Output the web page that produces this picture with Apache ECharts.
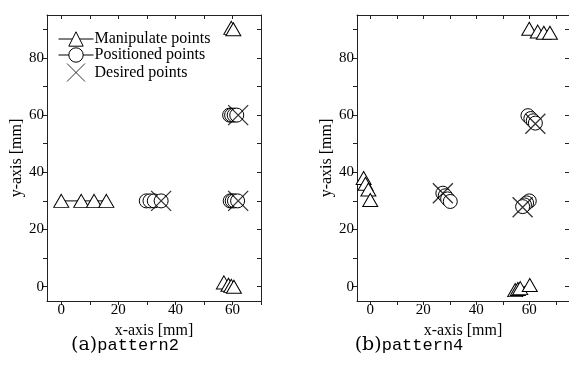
<!DOCTYPE html>
<html>
<head>
<meta charset="utf-8">
<script src="https://cdn.jsdelivr.net/npm/echarts@6/dist/echarts.min.js"></script>
<style>
  html, body { margin: 0; padding: 0; background: #fff; }
  #chart { width: 569px; height: 374px; }
</style>
</head>
<body>
<div id="chart"></div>
<script>
// ticks and labels
var xTicks = [0, 10, 20, 30, 40, 50, 60, 70];
var xLabels = [0, 20, 40, 60];
var yTicks = [0, 10, 20, 30, 40, 50, 60, 70, 80, 90];
var yLabels = [0, 20, 40, 60, 80];
var seriesNames = ['Manipulate points', 'Positioned points', 'Desired points'];
var captions = [['(a)', 'pattern2'], ['(b)', 'pattern4']];

// pattern2 - each inner list is one group of points joined by a line
var p2Manipulate = [
  [[0, 30], [7, 30], [11.5, 30], [15.8, 30]],
  [[59.6, 90.5], [60.3, 90]],
  [[57, 1.5], [58.6, 0.7], [59.6, 0.3], [60.5, 0]]
];
var p2Positioned = [
  [[29.8, 30], [31.1, 30], [32.6, 30], [35, 30]],
  [[59, 60], [59.7, 60], [60.6, 60], [61.5, 60]],
  [[59.2, 30], [59.9, 30], [60.7, 30], [61.8, 30]]
];
var p2Desired = [[35, 30], [62, 60], [62, 30]];

// pattern4
var p4Manipulate = [
  [[-2.5, 38], [-1.8, 36], [-0.7, 34], [0, 30.3]],
  [[60, 90.2], [63.2, 89.2], [65.5, 88.8], [67.8, 88.8]],
  [[54.7, -1.2], [55.7, -0.8], [56.6, -0.5], [60.2, 0.6]]
];
var p4Positioned = [
  [[27.4, 32.7], [28.3, 31.8], [29.2, 30.7], [30.2, 29.8]],
  [[59.5, 59.8], [60.6, 58.8], [61.5, 58], [62.3, 57.2]],
  [[60, 30], [59, 29.3], [58.2, 28.6], [57.5, 28]]
];
var p4Desired = [[27.4, 32.7], [57.5, 27.8], [62.3, 57]];

var serif = '"Liberation Serif", "Times New Roman", serif';
var frameColor = '#222';

var chartDom = document.getElementById('chart');
var myChart = echarts.init(chartDom);

function xAxes(gi, xmax) {
  var base = {
    type: 'value', gridIndex: gi, min: -5, max: xmax,
    splitLine: { show: false },
    axisLine: { show: true, onZero: false, lineStyle: { color: frameColor, width: 1 } }
  };
  return [
    Object.assign({}, base, {
      position: 'bottom',
      name: 'x-axis [mm]', nameLocation: 'middle', nameGap: 11,
      nameTextStyle: { fontFamily: serif, fontSize: 16, color: '#000' },
      axisTick: { show: true, inside: false, length: 4, customValues: xTicks, lineStyle: { color: frameColor } },
      axisLabel: { show: true, margin: 2, customValues: xLabels, fontFamily: serif, fontSize: 15, color: '#000' }
    }),
    Object.assign({}, base, {
      position: 'top',
      axisTick: { show: true, inside: true, length: 4, customValues: xTicks, lineStyle: { color: frameColor } },
      axisLabel: { show: false }
    })
  ];
}

function yAxes(gi) {
  var base = {
    type: 'value', gridIndex: gi, min: -5, max: 95,
    splitLine: { show: false },
    axisLine: { show: true, onZero: false, lineStyle: { color: frameColor, width: 1 } }
  };
  return [
    Object.assign({}, base, {
      position: 'left',
      name: 'y-axis [mm]', nameLocation: 'middle', nameGap: 22, nameRotate: 90,
      nameTextStyle: { fontFamily: serif, fontSize: 16, color: '#000' },
      axisTick: { show: true, inside: false, length: 4, customValues: yTicks, lineStyle: { color: frameColor } },
      axisLabel: { show: true, margin: 3, customValues: yLabels, fontFamily: serif, fontSize: 15, color: '#000' }
    }),
    Object.assign({}, base, {
      position: 'right',
      axisTick: { show: true, inside: true, length: 4, customValues: yTicks, lineStyle: { color: frameColor } },
      axisLabel: { show: false }
    })
  ];
}

function lineGroups(name, groups, symbol, size, axisIdx) {
  return groups.map(function (g) {
    return {
      name: name, type: 'line', xAxisIndex: axisIdx, yAxisIndex: axisIdx,
      data: g, symbol: symbol, symbolSize: size, showAllSymbol: true, z: 2,
      lineStyle: { color: '#000', width: 1 },
      itemStyle: { color: '#fff', borderColor: '#000', borderWidth: 1 }
    };
  });
}

function desired(data, axisIdx) {
  return {
    name: seriesNames[2], type: 'scatter', xAxisIndex: axisIdx, yAxisIndex: axisIdx,
    data: data, symbol: 'path://M0,0L20,20M20,0L0,20', symbolSize: 20, symbolKeepAspect: true,
    z: 5,
    itemStyle: { color: 'rgba(0,0,0,0)', borderColor: '#000', borderWidth: 1.3 }
  };
}

var series = [].concat(
  lineGroups(seriesNames[0], p2Manipulate, 'triangle', [15, 13], 0),
  lineGroups(seriesNames[1], p2Positioned, 'circle', 14, 0),
  [desired(p2Desired, 0)],
  lineGroups(seriesNames[0], p4Manipulate, 'triangle', [15, 13], 2),
  lineGroups(seriesNames[1], p4Positioned, 'circle', 14, 2),
  [desired(p4Desired, 2)]
);

var option = {
  animation: false,
  backgroundColor: '#fff',
  grid: [
    { left: 47, top: 15, width: 214, height: 286 },
    { left: 357, top: 15, width: 213, height: 286 }
  ],
  xAxis: xAxes(0, 70).concat(xAxes(1, 75)),
  yAxis: yAxes(0).concat(yAxes(1)),
  legend: {
    data: seriesNames,
    orient: 'vertical', left: 53, top: 26,
    itemWidth: 35, itemHeight: 18, itemGap: 0,
    lineStyle: { width: 1, color: '#000' },
    itemStyle: { borderWidth: 1, borderColor: '#000' },
    textStyle: { fontFamily: serif, fontSize: 16, color: '#000', padding: [0, 0, 0, -4] },
    selectedMode: false
  },
  graphic: captions.map(function (c, i) {
    return {
      type: 'text', x: i === 0 ? 125 : 409, y: 345,
      style: {
        text: '{a|' + c[0] + '}{b|' + c[1] + '}',
        align: 'center', verticalAlign: 'middle',
        rich: {
          a: { fontFamily: '"DejaVu Serif", serif', fontSize: 19, fill: '#000' },
          b: { fontFamily: '"Liberation Mono", monospace', fontSize: 17, fill: '#000' }
        }
      }
    };
  }),
  series: series
};

myChart.setOption(option);
</script>
</body>
</html>
